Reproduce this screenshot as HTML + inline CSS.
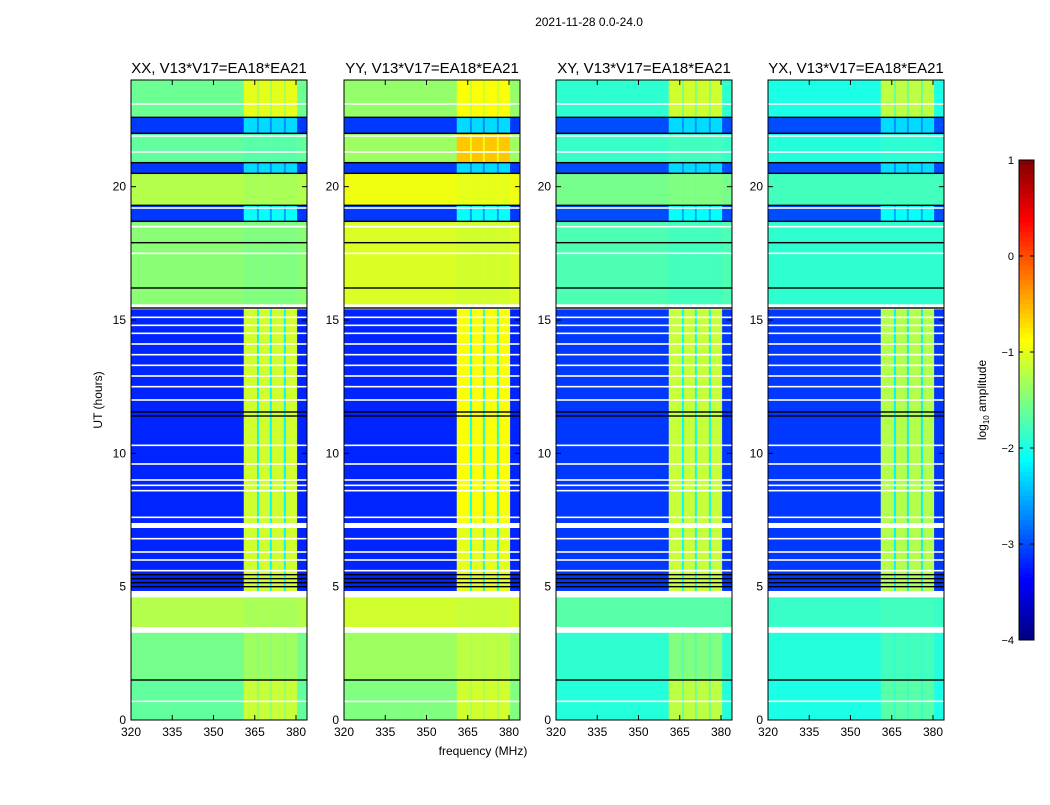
<!DOCTYPE html>
<html><head><meta charset="utf-8">
<style>
body{margin:0;background:#fff;font-family:"Liberation Sans",sans-serif;}
svg text{font-family:"Liberation Sans",sans-serif;}
</style></head>
<body>
<svg id="fig" width="1050" height="800" viewBox="0 0 1050 800">
<rect x="0" y="0" width="1050" height="800" fill="#fff"/>
<text x="589" y="26" font-size="12" text-anchor="middle">2021-11-28 0.0-24.0</text>
<text x="483" y="755" font-size="12" text-anchor="middle">frequency (MHz)</text>
<text x="102" y="400" font-size="12" text-anchor="middle" transform="rotate(-90 102 400)">UT (hours)</text>
<g id="panels"></g>
<g id="cbar"></g>
</svg>
<script>
// ---- data ----
const panelTitles = ["XX, V13*V17=EA18*EA21","YY, V13*V17=EA18*EA21","XY, V13*V17=EA18*EA21","YX, V13*V17=EA18*EA21"];
const segStart = [0, 1.5, 3.5, 4.85, 7.4, 15.6, 18.7, 19.3, 20.5, 20.9, 22.0, 22.6];
const segEnd   = [1.5, 3.3, 4.6, 7.2, 15.4, 18.7, 19.3, 20.5, 20.9, 22.0, 22.6, 24.0];
const bgXX = [-1.65,-1.55,-1.25,-3.2,-3.2,-1.45,-3.1,-1.25,-3.1,-1.65,-3.1,-1.6];
const bgYY = [-1.5,-1.35,-1.1,-3.2,-3.2,-1.05,-3.1,-0.95,-3.1,-1.35,-3.1,-1.4];
const bgXY = [-1.95,-1.9,-1.7,-3.1,-3.1,-1.75,-3.0,-1.55,-3.0,-1.85,-3.0,-1.9];
const bgYX = [-2.0,-1.95,-1.85,-3.1,-3.1,-1.9,-3.0,-1.8,-3.0,-1.95,-3.0,-2.0];
const rfiXX = [-1.15,-1.35,-1.3,-1.1,-1.1,-1.5,-2.1,-1.3,-2.3,-1.7,-2.3,-1.0];
const rfiYY = [-1.1,-1.2,-1.15,-1.0,-0.9,-1.1,-2.1,-1.0,-2.3,-0.6,-2.3,-0.9];
const rfiXY = [-1.2,-1.5,-1.7,-1.15,-1.15,-1.8,-2.1,-1.5,-2.3,-1.8,-2.3,-1.1];
const rfiYX = [-1.7,-1.8,-1.8,-1.25,-1.25,-1.9,-2.1,-1.8,-2.3,-1.9,-2.3,-1.2];
const freqEdges = [320, 361, 365.8, 366.5, 370.5, 371.2, 375.6, 376.3, 380.4, 384];
const colKind = ["bg","rfi","gap","rfi","gap","rfi","gap","rfi","bg"];
const whiteLines = [0.7, 3.3, 3.45, 5.6, 6.0, 6.3, 6.8, 7.6, 8.6, 8.8, 9.0, 9.6, 10.3, 12.0, 12.5, 12.9, 13.3, 13.7, 14.1, 14.5, 14.8, 15.1, 17.5, 18.5, 19.2, 21.3, 21.9, 23.1];
const blackLines = [1.5, 5.0, 5.15, 5.3, 5.45, 11.4, 11.55, 15.45, 16.2, 17.9, 18.7, 19.3, 20.5, 20.9, 22.0, 22.6];
const xTicks = [320, 335, 350, 365, 380];
const yTicks = [0, 5, 10, 15, 20];
const cbTicks = [1, 0, -1, -2, -3, -4];
const cbTickLabels = ["1","0","\u22121","\u22122","\u22123","\u22124"];
// ---- layout ----
const panelLeft = [131, 344, 556, 768];
const PW = 176, PT = 80, PB = 720;
const bgs = [bgXX,bgYY,bgXY,bgYX], rfis = [rfiXX,rfiYY,rfiXY,rfiYX];
const NS = "http://www.w3.org/2000/svg";
function jet(v){ // v in [-4,1]
  let t = (v + 4) / 5; t = Math.max(0, Math.min(1, t));
  const c = x => Math.round(255 * Math.max(0, Math.min(1, x)));
  return `rgb(${c(1.5 - Math.abs(4*t - 3))},${c(1.5 - Math.abs(4*t - 2))},${c(1.5 - Math.abs(4*t - 1))})`;
}
function mk(tag, attrs, parent){ const e=document.createElementNS(NS,tag); for(const k in attrs) e.setAttribute(k,attrs[k]); parent.appendChild(e); return e; }
const yS = t => PB - (t / 24) * (PB - PT);
const panelsG = document.getElementById('panels');
panelTitles.forEach((title, p) => {
  const L = panelLeft[p];
  const xS = f => L + (f - 320) / 64 * PW;
  const g = mk('g', {}, panelsG);
  
  
  const bgR = mk('rect', {x:L, y:PT, width:PW, height:PB-PT, fill:'#fff'}, g);
  
  
  segStart.forEach((t0, s) => {
    const t1 = segEnd[s], b = bgs[p][s], r = rfis[p][s];
    for (let c = 0; c < colKind.length; c++) {
      const v = colKind[c] === 'bg' ? b : colKind[c] === 'rfi' ? r : (b + r) / 2;
      const x0 = xS(freqEdges[c]), x1 = xS(freqEdges[c+1]);
      const cell = mk('rect', {x:x0, y:yS(t1), width:x1-x0+0.3, height:yS(t0)-yS(t1)+0.3, fill:jet(v)}, g);
      
      
    }
  });
  whiteLines.forEach(t => {
    const l = mk('rect', {x:L, y:yS(t)-0.8, width:PW, height:1.6, fill:'#fff'}, g);
    
    
  });
  blackLines.forEach(t => {
    const l = mk('rect', {x:L, y:yS(t)-0.7, width:PW, height:1.4, fill:'#000'}, g);
    
    
  });
  const fr = mk('rect', {x:L, y:PT, width:PW, height:PB-PT, fill:'none', stroke:'#000', 'stroke-width':1}, g);
  
  
  xTicks.forEach(f => {
    const x = xS(f);
    mk('line', {x1:x, x2:x, y1:PB, y2:PB-5, stroke:'#000'}, g);
    mk('line', {x1:x, x2:x, y1:PT, y2:PT+5, stroke:'#000'}, g);
    const tx = mk('text', {x:x, y:PB+16, 'font-size':12, 'text-anchor':'middle'}, g);
    tx.textContent = f;
    
    
  });
  yTicks.forEach(t => {
    const y = yS(t);
    mk('line', {x1:L, x2:L+5, y1:y, y2:y, stroke:'#000'}, g);
    mk('line', {x1:L+PW, x2:L+PW-5, y1:y, y2:y, stroke:'#000'}, g);
    const tx = mk('text', {x:L-5, y:y+4, 'font-size':12, 'text-anchor':'end'}, g);
    tx.textContent = t;
    
    
  });
  const tt = mk('text', {x:L+PW/2, y:73, 'font-size':15, 'text-anchor':'middle'}, g);
  tt.textContent = title;
  
  
});
// colorbar
const cb = document.getElementById('cbar');
const CX = 1019, CW = 15, CT = 160, CB = 640;
const cy = v => CT + (1 - v) / 5 * (CB - CT);
for (let i = 0; i < 100; i++) {
  const v0 = 1 - i * 0.05;
  const r = mk('rect', {x:CX, y:cy(v0), width:CW, height:(CB-CT)/100+0.5, fill:jet(v0 - 0.025)}, cb);
  
  
}
mk('rect', {x:CX, y:CT, width:CW, height:CB-CT, fill:'none', stroke:'#000'}, cb);
cbTicks.forEach((v, i) => {
  const y = cy(v);
  mk('line', {x1:CX, x2:CX+4, y1:y, y2:y, stroke:'#000'}, cb);
  mk('line', {x1:CX+CW, x2:CX+CW-4, y1:y, y2:y, stroke:'#000'}, cb);
  const tx = mk('text', {x:CX-5, y:y+4, 'font-size':11, 'text-anchor':'end'}, cb);
  tx.textContent = cbTickLabels[i];
  
  
});
const cl = mk('text', {x:986, y:400, 'font-size':12, 'text-anchor':'middle', transform:'rotate(-90 986 400)'}, cb);
cl.innerHTML = 'log<tspan font-size="8" dy="3">10</tspan><tspan dy="-3"> amplitude</tspan>';


</script>
</body></html>
